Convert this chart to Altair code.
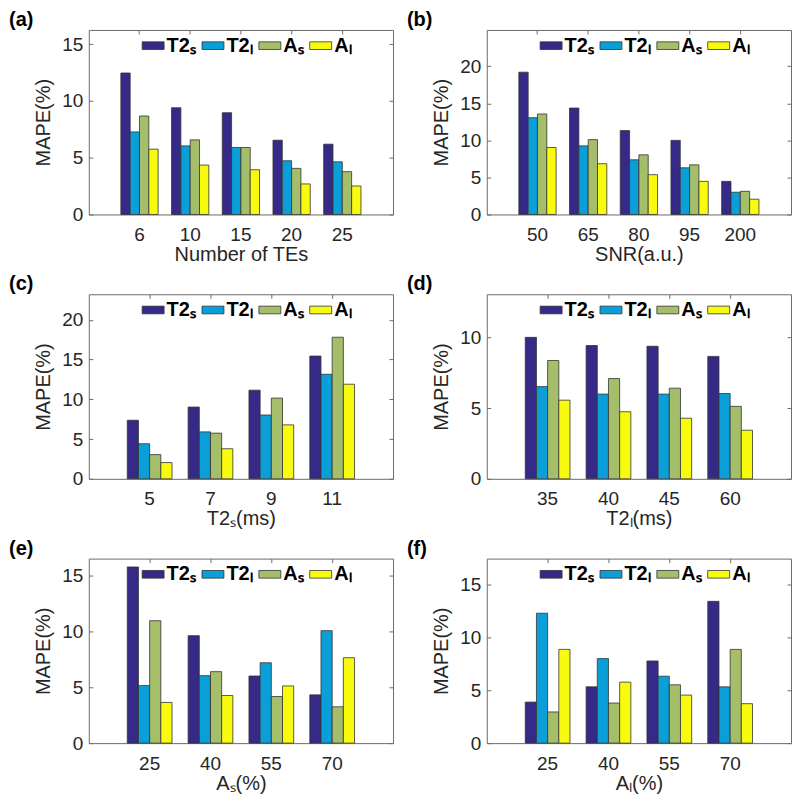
import altair as alt
import pandas as pd

FONT = "Liberation Sans"
W, H = 305, 185

series_labels = ["T2ₛ", "T2ₗ", "Aₛ", "Aₗ"]
colors = ["#352A87", "#0A9FD8", "#A5BE6A", "#F9FB0E"]

# (a) Number of TEs
a_cats = ["6", "10", "15", "20", "25"]
a_T2s = [12.46, 9.40, 8.96, 6.54, 6.19]
a_T2l = [7.27, 6.04, 5.90, 4.73, 4.64]
a_As = [8.67, 6.57, 5.90, 4.06, 3.77]
a_Al = [5.75, 4.35, 3.94, 2.69, 2.51]

# (b) SNR
b_cats = ["50", "65", "80", "95", "200"]
b_T2s = [19.20, 14.36, 11.32, 10.00, 4.47]
b_T2l = [13.06, 9.26, 7.38, 6.30, 3.00]
b_As = [13.56, 10.10, 8.05, 6.70, 3.13]
b_Al = [9.04, 6.85, 5.37, 4.47, 2.06]

# (c) T2s
c_cats = ["5", "7", "9", "11"]
c_T2s = [7.36, 9.02, 11.14, 15.43]
c_T2l = [4.41, 5.90, 8.02, 13.14]
c_As = [3.04, 5.74, 10.15, 17.80]
c_Al = [2.04, 3.78, 6.78, 11.89]

# (d) T2l
d_cats = ["35", "40", "45", "60"]
d_T2s = [10.02, 9.44, 9.39, 8.67]
d_T2l = [6.53, 6.00, 6.00, 6.04]
d_As = [8.38, 7.10, 6.42, 5.13]
d_Al = [5.57, 4.75, 4.29, 3.44]

# (e) As
e_cats = ["25", "40", "55", "70"]
e_T2s = [15.80, 9.64, 6.02, 4.33]
e_T2l = [5.16, 6.05, 7.21, 10.09]
e_As = [10.98, 6.41, 4.18, 3.26]
e_Al = [3.65, 4.27, 5.13, 7.66]

# (f) Al
f_cats = ["25", "40", "55", "70"]
f_T2s = [3.87, 5.31, 7.75, 13.37]
f_T2l = [12.25, 7.97, 6.31, 5.31]
f_As = [2.94, 3.78, 5.50, 8.84]
f_Al = [8.84, 5.75, 4.53, 3.72]

panels = [
    dict(label="(a)", cats=a_cats, vals=[a_T2s, a_T2l, a_As, a_Al], ymax=16.25, ticks=[0, 5, 10, 15], xtitle="Number of TEs"),
    dict(label="(b)", cats=b_cats, vals=[b_T2s, b_T2l, b_As, b_Al], ymax=24.9, ticks=[0, 5, 10, 15, 20], xtitle="SNR(a.u.)"),
    dict(label="(c)", cats=c_cats, vals=[c_T2s, c_T2l, c_As, c_Al], ymax=23.2, ticks=[0, 5, 10, 15, 20], xtitle="T2ₛ(ms)"),
    dict(label="(d)", cats=d_cats, vals=[d_T2s, d_T2l, d_As, d_Al], ymax=13.07, ticks=[0, 5, 10], xtitle="T2ₗ(ms)"),
    dict(label="(e)", cats=e_cats, vals=[e_T2s, e_T2l, e_As, e_Al], ymax=16.55, ticks=[0, 5, 10, 15], xtitle="Aₛ(%)"),
    dict(label="(f)", cats=f_cats, vals=[f_T2s, f_T2l, f_As, f_Al], ymax=17.4, ticks=[0, 5, 10, 15], xtitle="Aₗ(%)"),
]


def make_panel(p):
    rows = []
    for s, vals in zip(series_labels, p["vals"]):
        for c, v in zip(p["cats"], vals):
            rows.append({"cat": c, "series": s, "value": v})
    df = pd.DataFrame(rows)
    bars = alt.Chart(df).mark_bar(stroke="#333333", strokeWidth=0.8, opacity=1).encode(
        x=alt.X("cat:N", sort=p["cats"], title=p["xtitle"],
                scale=alt.Scale(paddingInner=0, paddingOuter=0.5),
                axis=alt.Axis(labelAngle=0, gridDash=[4, H - 8, 4, 3000])),
        xOffset=alt.XOffset("series:N", sort=series_labels,
                            scale=alt.Scale(paddingInner=0, paddingOuter=0.72)),
        y=alt.Y("value:Q", title="MAPE(%)",
                scale=alt.Scale(domain=[0, p["ymax"]], nice=False, zero=True),
                axis=alt.Axis(values=p["ticks"], gridDash=[4, W - 8, 4, 3000])),
        color=alt.Color("series:N", sort=series_labels,
                        scale=alt.Scale(domain=series_labels, range=colors),
                        legend=alt.Legend(
                            orient="none", legendX=53, legendY=4, direction="horizontal",
                            title=None,
                            symbolType="M-1,-0.35L1,-0.35L1,0.35L-1,0.35Z",
                            symbolSize=484, symbolStrokeColor="#333333", symbolStrokeWidth=0.8,
                            symbolOpacity=1,
                            labelFont=FONT, labelFontSize=20, labelFontWeight="bold",
                            labelColor="black", labelOffset=2, columnPadding=3, padding=0)),
    )
    label = alt.Chart(pd.DataFrame({"t": [p["label"]]})).mark_text(
        align="left", baseline="top", fontSize=20, fontWeight="bold", font=FONT, color="black"
    ).encode(text="t:N", x=alt.value(-80), y=alt.value(-20))
    return alt.layer(bars, label).properties(width=W, height=H)


charts = [make_panel(p) for p in panels]

chart = alt.concat(
    *charts, columns=2, spacing={"row": 80, "column": 94}, bounds="flush", padding=0
).resolve_scale(
    color="independent", x="independent", y="independent", xOffset="independent"
).resolve_legend(color="independent").configure(
    background="white"
).configure_view(
    stroke="#6b6b6b", strokeWidth=1
).configure_axis(
    labelFont=FONT, labelFontSize=19, labelColor="#262626",
    titleFont=FONT, titleFontSize=20, titleFontWeight="normal", titleColor="#262626",
    domain=False, ticks=False, grid=True, gridColor="#6b6b6b", gridOpacity=1, gridWidth=1,
).configure_axisX(
    labelPadding=11, titlePadding=0
).configure_axisY(
    labelPadding=6, titlePadding=8
)

chart.save("out.html", embed_options={"renderer": "svg", "actions": False})
